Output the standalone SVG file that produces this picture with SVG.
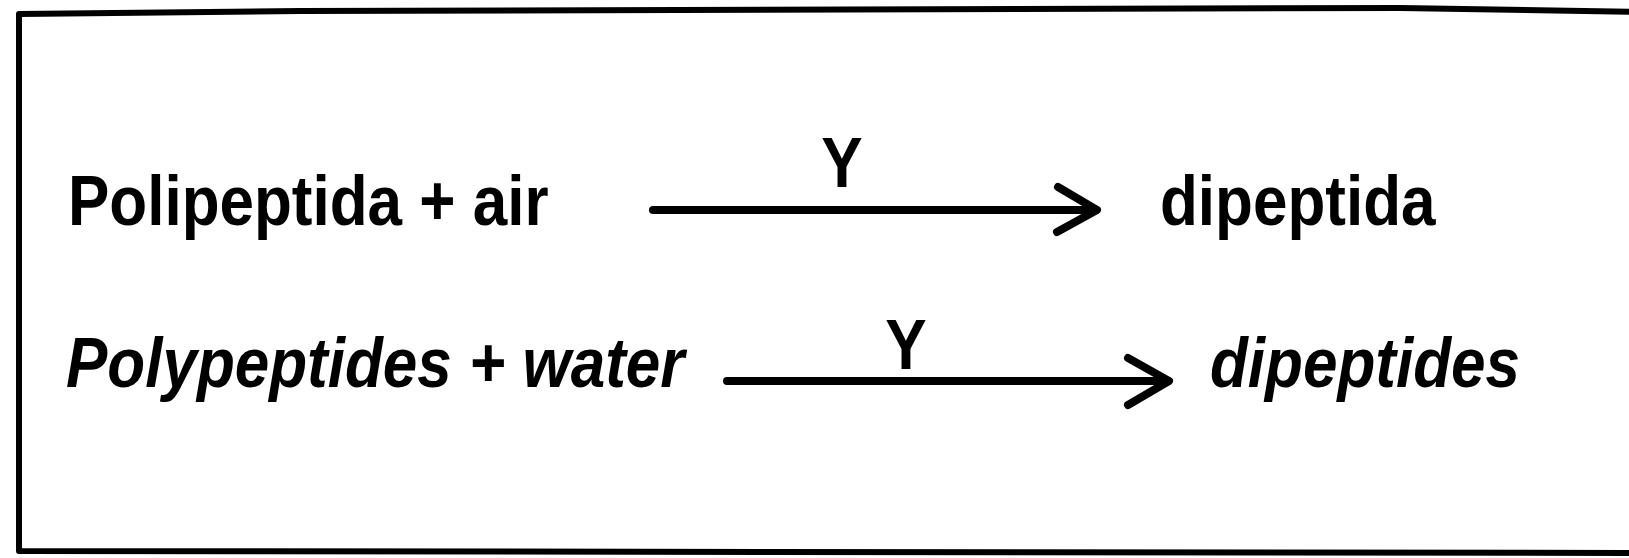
<svg xmlns="http://www.w3.org/2000/svg" width="1629" height="558" viewBox="0 0 1629 558">
<style>
.t{font-family:"Liberation Sans",Arial,Helvetica,sans-serif;font-weight:bold;font-size:62px;fill:#000}
.i{font-style:italic}
.ln{stroke:#000;stroke-width:8;fill:none;stroke-linecap:round;stroke-linejoin:round}
.frame{stroke:#000;stroke-width:6;fill:none;stroke-linejoin:round}
</style>
<rect width="1629" height="558" fill="#fff"/>
<g id="frame">
<path class="frame" d="M1640,12 L1400,8 L300,11 L19,14 L19,551 L1640,553"/>
</g>
<g id="reactant1"><text class="t" transform="translate(68,225) scale(1,1.13)">Polipeptida + air</text></g>
<g id="product1"><text class="t" transform="translate(1160,225) scale(1,1.13)">dipeptida</text></g>
<g id="reactant2"><text class="t i" transform="translate(66,387) scale(1,1.13)">Polypeptides + water</text></g>
<g id="product2"><text class="t i" transform="translate(1210,387) scale(1,1.13)">dipeptides</text></g>
<g id="connectors">
<line class="ln" x1="653" y1="210" x2="1096" y2="210"/>
<polyline class="ln" points="1058,187 1097,210 1057,232"/>
<text class="t" text-anchor="middle" transform="translate(842,187) scale(1,1.13)">Y</text>
<line class="ln" x1="727" y1="381" x2="1168" y2="381"/>
<polyline class="ln" points="1128,358 1169,381 1128,405"/>
<text class="t" text-anchor="middle" transform="translate(906,369) scale(1,1.13)">Y</text>
</g>
</svg>
